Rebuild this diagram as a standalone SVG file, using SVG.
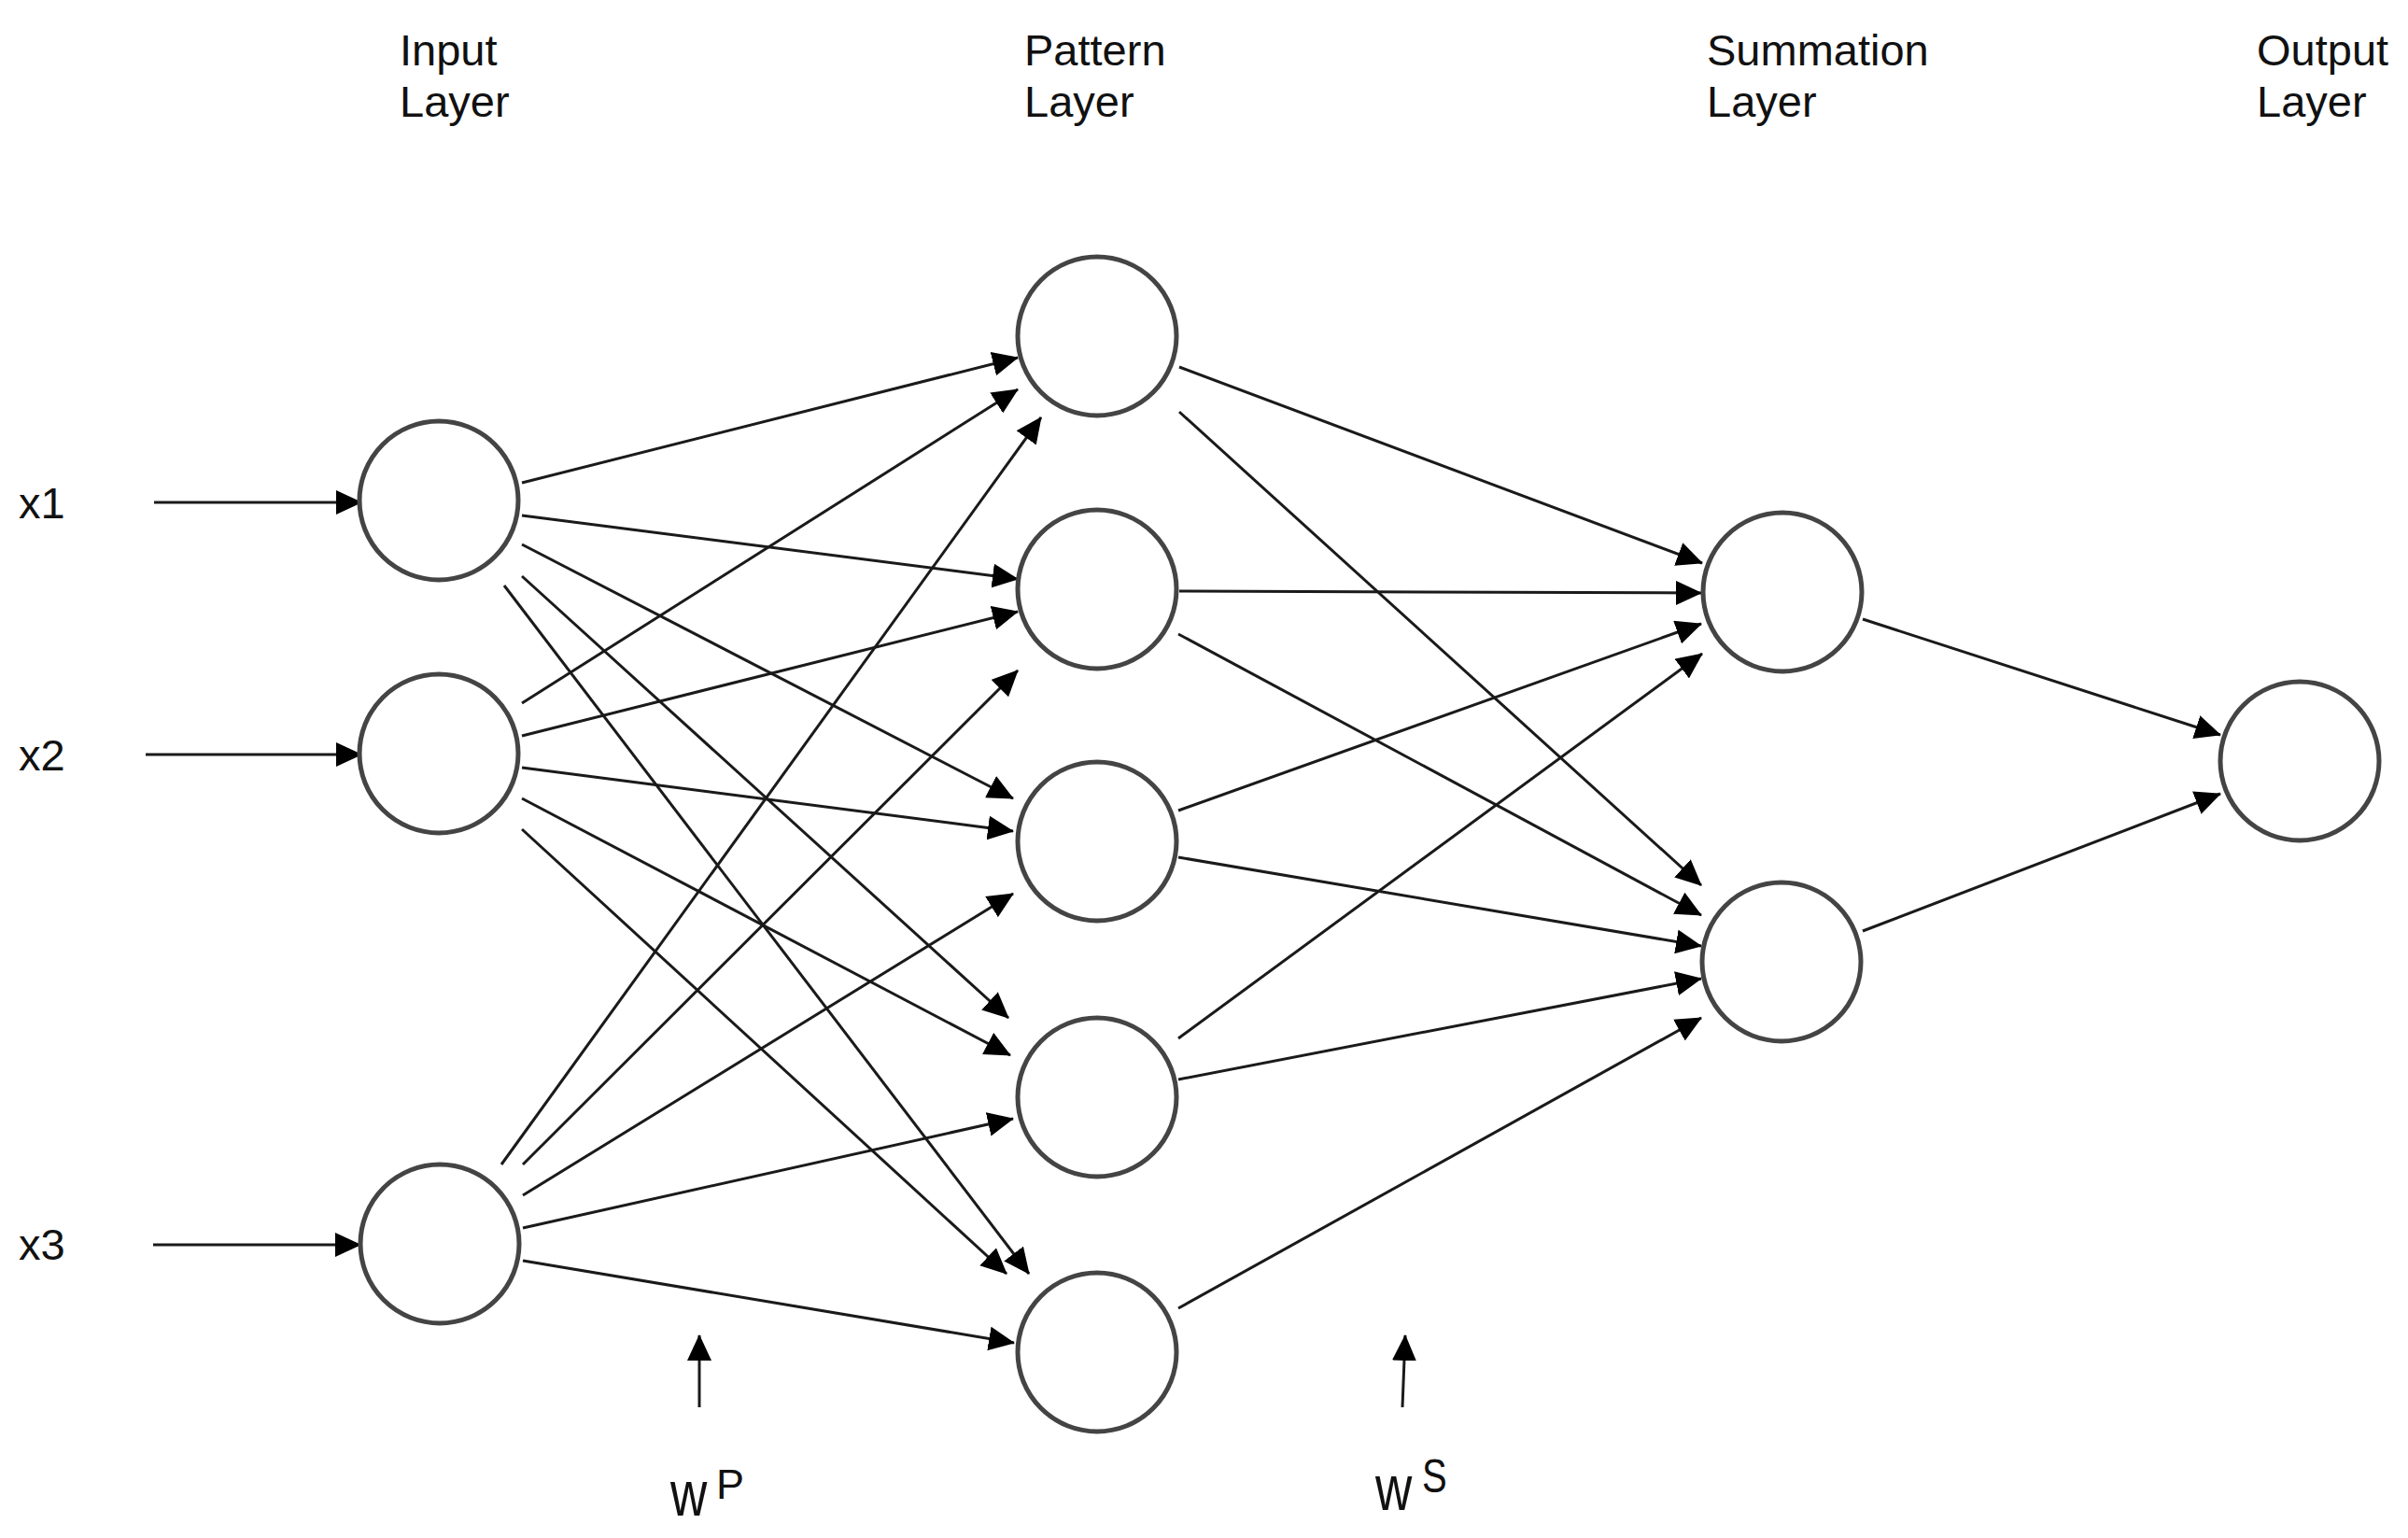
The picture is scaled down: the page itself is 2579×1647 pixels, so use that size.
<svg xmlns="http://www.w3.org/2000/svg" width="2579" height="1647" viewBox="0 0 2579 1647">
<style>
.node{fill:#fff;stroke:#444;stroke-width:5}
.edge{stroke:#1a1a1a;stroke-width:3;fill:none;marker-end:url(#ah)}
.lbl{font-family:"Liberation Sans",Arial,sans-serif;font-size:47px;fill:#111}
.w{font-family:"Liberation Sans",Arial,sans-serif;fill:#111}
</style>
<defs>
<marker id="ah" viewBox="0 0 28 26" refX="27" refY="13" markerWidth="28" markerHeight="26" markerUnits="userSpaceOnUse" orient="auto">
<path d="M0,0 L28,13 L0,26 z" fill="#000"/>
</marker>
</defs>
<rect width="2579" height="1647" fill="#fff"/>
<g id="labels">
<text class="lbl" x="428" y="70">Input</text>
<text class="lbl" x="428" y="125">Layer</text>
<text class="lbl" x="1097" y="70">Pattern</text>
<text class="lbl" x="1097" y="125">Layer</text>
<text class="lbl" x="1828" y="70">Summation</text>
<text class="lbl" x="1828" y="125">Layer</text>
<text class="lbl" x="2417" y="70">Output</text>
<text class="lbl" x="2417" y="125">Layer</text>
<text class="lbl" x="20" y="555">x1</text>
<text class="lbl" x="20" y="825">x2</text>
<text class="lbl" x="20" y="1349">x3</text>
<text class="w" transform="translate(718,1623) scale(0.8,1)" font-size="68">w</text>
<text class="w" x="767" y="1605" font-size="45">P</text>
<text class="w" transform="translate(1473,1617) scale(0.8,1)" font-size="68">w</text>
<text class="w" transform="translate(1523,1598) scale(0.8,1)" font-size="50">S</text>
</g>
<g id="connectors">
<line class="edge" x1="165" y1="538" x2="387" y2="538"/>
<line class="edge" x1="156" y1="808" x2="387" y2="808"/>
<line class="edge" x1="164" y1="1333" x2="386" y2="1333"/>
<line class="edge" x1="559" y1="517" x2="1090" y2="383"/>
<line class="edge" x1="559" y1="552" x2="1090" y2="620"/>
<line class="edge" x1="559" y1="583" x2="1085" y2="855"/>
<line class="edge" x1="559" y1="617" x2="1080" y2="1090"/>
<line class="edge" x1="540" y1="627" x2="1102" y2="1364"/>
<line class="edge" x1="559" y1="753" x2="1090" y2="417"/>
<line class="edge" x1="559" y1="788" x2="1090" y2="655"/>
<line class="edge" x1="559" y1="822" x2="1085" y2="890"/>
<line class="edge" x1="559" y1="855" x2="1082" y2="1130"/>
<line class="edge" x1="559" y1="888" x2="1078" y2="1364"/>
<line class="edge" x1="537" y1="1247" x2="1115" y2="447"/>
<line class="edge" x1="560" y1="1247" x2="1090" y2="718"/>
<line class="edge" x1="560" y1="1280" x2="1085" y2="957"/>
<line class="edge" x1="560" y1="1315" x2="1085" y2="1198"/>
<line class="edge" x1="560" y1="1350" x2="1086" y2="1438"/>
<line class="edge" x1="1263" y1="393" x2="1823" y2="603"/>
<line class="edge" x1="1263" y1="441" x2="1822" y2="948"/>
<line class="edge" x1="1263" y1="633" x2="1822" y2="635"/>
<line class="edge" x1="1262" y1="679" x2="1822" y2="980"/>
<line class="edge" x1="1262" y1="868" x2="1822" y2="668"/>
<line class="edge" x1="1262" y1="918" x2="1822" y2="1013"/>
<line class="edge" x1="1262" y1="1112" x2="1823" y2="700"/>
<line class="edge" x1="1262" y1="1156" x2="1822" y2="1048"/>
<line class="edge" x1="1262" y1="1401" x2="1822" y2="1090"/>
<line class="edge" x1="1995" y1="663" x2="2378" y2="787"/>
<line class="edge" x1="1995" y1="997" x2="2378" y2="850"/>
<line class="edge" x1="749" y1="1507" x2="749" y2="1430"/>
<line class="edge" x1="1502" y1="1507" x2="1505" y2="1430"/>
</g>
<g id="input1"><circle class="node" cx="470" cy="536" r="85"/></g>
<g id="input2"><circle class="node" cx="470" cy="807" r="85"/></g>
<g id="input3"><circle class="node" cx="471" cy="1332" r="85"/></g>
<g id="pattern1"><circle class="node" cx="1175" cy="360" r="85"/></g>
<g id="pattern2"><circle class="node" cx="1175" cy="631" r="85"/></g>
<g id="pattern3"><circle class="node" cx="1175" cy="901" r="85"/></g>
<g id="pattern4"><circle class="node" cx="1175" cy="1175" r="85"/></g>
<g id="pattern5"><circle class="node" cx="1175" cy="1448" r="85"/></g>
<g id="summation1"><circle class="node" cx="1909" cy="634" r="85"/></g>
<g id="summation2"><circle class="node" cx="1908" cy="1030" r="85"/></g>
<g id="output"><circle class="node" cx="2463" cy="815" r="85"/></g>
</svg>
